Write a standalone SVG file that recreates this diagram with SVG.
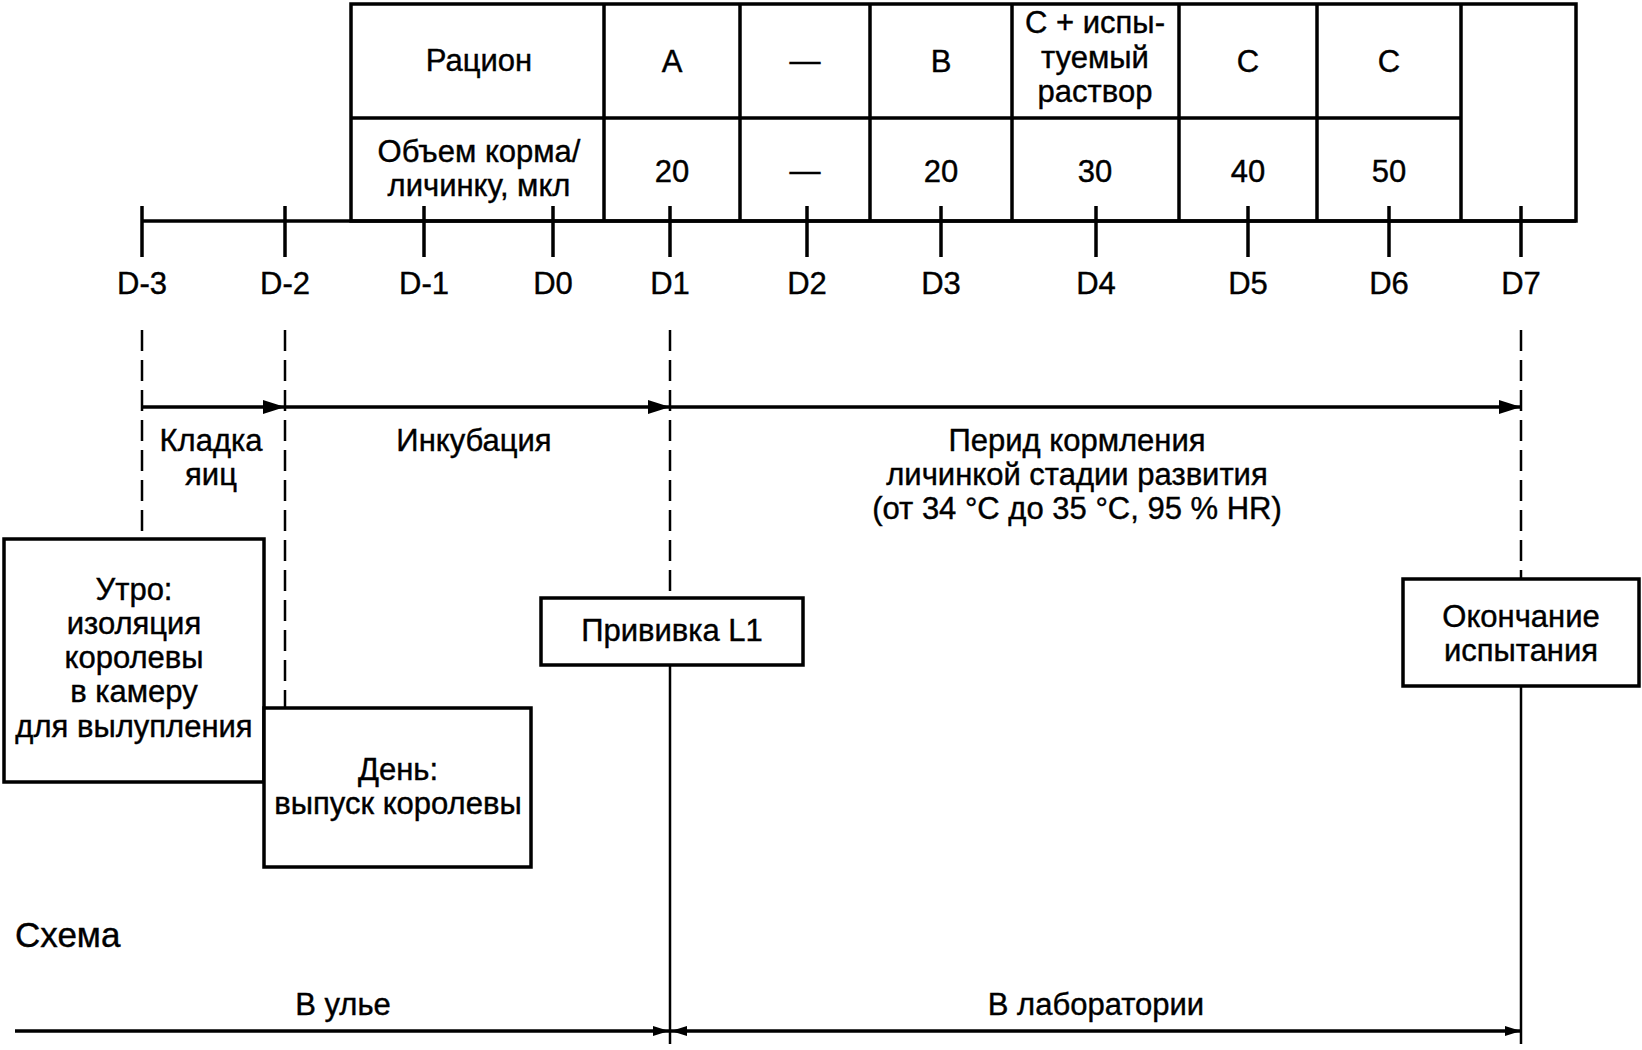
<svg xmlns="http://www.w3.org/2000/svg" width="1642" height="1050" viewBox="0 0 1642 1050">
<style>
text{font-family:"Liberation Sans",Arial,sans-serif;font-size:31px;fill:#000;stroke:#000;stroke-width:0.4;text-anchor:middle}
.thick{stroke:#000;stroke-width:3.5;fill:none}
.thin{stroke:#000;stroke-width:2.5;fill:none}
.dash{stroke:#000;stroke-width:2.5;fill:none;stroke-dasharray:21 9}
.box{stroke:#000;stroke-width:3.5;fill:#fff}
</style>
<defs>
<marker id="ah" markerUnits="userSpaceOnUse" markerWidth="24" markerHeight="16" refX="22" refY="8" orient="auto">
<path d="M0,1 L22,8 L0,15 Z" fill="#000"/>
</marker>
<marker id="ahs" markerUnits="userSpaceOnUse" markerWidth="18" markerHeight="12" refX="16" refY="6" orient="auto-start-reverse">
<path d="M0,1 L16,6 L0,11 Z" fill="#000"/>
</marker>
</defs>
<rect width="1642" height="1050" fill="#fff"/>

<g id="table">
<rect x="351" y="4" width="1225" height="217" class="thick"/>
<line x1="351" y1="118" x2="1461" y2="118" class="thick"/>
<line x1="604" y1="4" x2="604" y2="221" class="thick"/>
<line x1="740" y1="4" x2="740" y2="221" class="thick"/>
<line x1="870" y1="4" x2="870" y2="221" class="thick"/>
<line x1="1012" y1="4" x2="1012" y2="221" class="thick"/>
<line x1="1179" y1="4" x2="1179" y2="221" class="thick"/>
<line x1="1317" y1="4" x2="1317" y2="221" class="thick"/>
<line x1="1461" y1="4" x2="1461" y2="221" class="thick"/>
<text x="479" y="71">Рацион</text>
<text x="672" y="72">A</text>
<text x="805" y="71">—</text>
<text x="941" y="72">B</text>
<text x="1095" y="33">C + испы-</text>
<text x="1095" y="68">туемый</text>
<text x="1095" y="102">раствор</text>
<text x="1248" y="72">C</text>
<text x="1389" y="72">C</text>
<text x="479" y="162">Объем корма/</text>
<text x="479" y="196">личинку, мкл</text>
<text x="672" y="182">20</text>
<text x="805" y="181">—</text>
<text x="941" y="182">20</text>
<text x="1095" y="182">30</text>
<text x="1248" y="182">40</text>
<text x="1389" y="182">50</text>
</g>

<g id="timeline">
<line x1="142" y1="221" x2="1576" y2="221" class="thick"/>
<g class="thick">
<line x1="142" y1="206" x2="142" y2="257"/>
<line x1="285" y1="206" x2="285" y2="257"/>
<line x1="424" y1="206" x2="424" y2="257"/>
<line x1="553" y1="206" x2="553" y2="257"/>
<line x1="670" y1="206" x2="670" y2="257"/>
<line x1="807" y1="206" x2="807" y2="257"/>
<line x1="941" y1="206" x2="941" y2="257"/>
<line x1="1096" y1="206" x2="1096" y2="257"/>
<line x1="1248" y1="206" x2="1248" y2="257"/>
<line x1="1389" y1="206" x2="1389" y2="257"/>
<line x1="1521" y1="206" x2="1521" y2="257"/>
</g>
<text x="142" y="294">D-3</text>
<text x="285" y="294">D-2</text>
<text x="424" y="294">D-1</text>
<text x="553" y="294">D0</text>
<text x="670" y="294">D1</text>
<text x="807" y="294">D2</text>
<text x="941" y="294">D3</text>
<text x="1096" y="294">D4</text>
<text x="1248" y="294">D5</text>
<text x="1389" y="294">D6</text>
<text x="1521" y="294">D7</text>
</g>

<g id="connectors">
<line x1="142" y1="330" x2="142" y2="539" class="dash"/>
<line x1="285" y1="330" x2="285" y2="708" class="dash"/>
<line x1="670" y1="330" x2="670" y2="598" class="dash"/>
<line x1="1521" y1="330" x2="1521" y2="579" class="dash"/>
<line x1="670" y1="665" x2="670" y2="1044" class="thin"/>
<line x1="1521" y1="686" x2="1521" y2="1044" class="thin"/>
<line x1="142" y1="407" x2="285" y2="407" class="thick" marker-end="url(#ah)"/>
<line x1="285" y1="407" x2="670" y2="407" class="thick" marker-end="url(#ah)"/>
<line x1="670" y1="407" x2="1521" y2="407" class="thick" marker-end="url(#ah)"/>
<line x1="15" y1="1031" x2="669" y2="1031" class="thick" marker-end="url(#ahs)"/>
<line x1="671" y1="1031" x2="1521" y2="1031" class="thick" marker-start="url(#ahs)" marker-end="url(#ahs)"/>
</g>

<g id="labels">
<text x="211" y="451">Кладка</text>
<text x="211" y="485">яиц</text>
<text x="474" y="451">Инкубация</text>
<text x="1077" y="451">Перид кормления</text>
<text x="1077" y="485">личинкой стадии развития</text>
<text x="1077" y="519">(от 34 °C до 35 °C, 95 % HR)</text>
<text x="15" y="947" style="text-anchor:start;font-size:35px">Схема</text>
<text x="343" y="1015">В улье</text>
<text x="1096" y="1015">В лаборатории</text>
</g>

<g id="node-morning">
<rect x="4" y="539" width="260" height="243" class="box"/>
<text x="134" y="600">Утро:</text>
<text x="134" y="634">изоляция</text>
<text x="134" y="668">королевы</text>
<text x="134" y="702">в камеру</text>
<text x="134" y="737">для вылупления</text>
</g>

<g id="node-day">
<rect x="264" y="708" width="267" height="159" class="box"/>
<text x="398" y="780">День:</text>
<text x="398" y="814">выпуск королевы</text>
</g>

<g id="node-graft">
<rect x="541" y="598" width="262" height="67" class="box"/>
<text x="672" y="641">Прививка L1</text>
</g>

<g id="node-end">
<rect x="1403" y="579" width="236" height="107" class="box"/>
<text x="1521" y="627">Окончание</text>
<text x="1521" y="661">испытания</text>
</g>
</svg>
